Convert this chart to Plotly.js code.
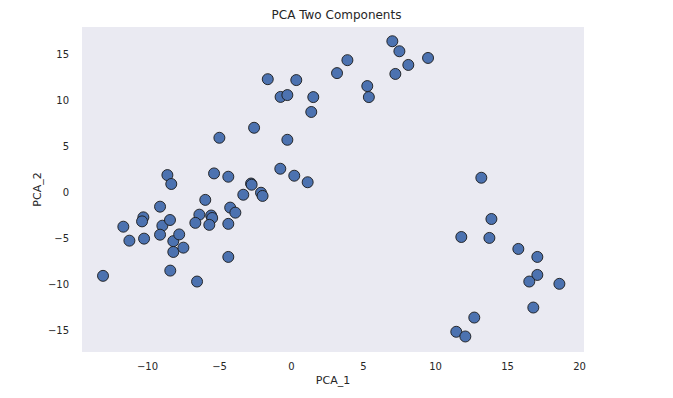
<!DOCTYPE html>
<html>
<head>
<meta charset="utf-8">
<script src="https://cdn.plot.ly/plotly-3.0.1.min.js"></script>
<style>html,body{margin:0;padding:0;background:#fff;}#chart{width:673px;height:398px;}</style>
</head>
<body>
<div id="chart"></div>
<script>
const pca1 = [-13.09,-11.68,-11.26,-10.29,-10.38,-10.24,-9.13,-8.97,-9.13,-8.44,-8.21,-7.80,-8.21,-7.51,-8.42,-8.62,-8.35,-6.56,-5.99,-6.40,-6.68,-5.58,-5.51,-5.71,-5.38,-4.39,-4.26,-3.90,-4.39,-4.39,-3.35,-2.81,-2.77,-2.12,-2.01,-0.78,0.19,1.12,-5.01,-2.60,-0.29,-1.65,0.33,-0.76,-0.29,1.51,1.37,3.16,3.88,7.00,7.49,9.48,8.11,7.21,5.26,5.37,13.18,13.88,11.79,13.74,15.75,17.07,17.07,16.51,18.60,16.79,12.69,11.44,12.07];
const pca2 = [-9.05,-3.70,-5.22,-2.68,-3.12,-5.00,-1.52,-3.59,-4.57,-2.97,-5.27,-4.54,-6.45,-5.98,-8.48,1.92,0.95,-9.67,-0.78,-2.39,-3.28,-2.48,-2.75,-3.50,2.10,1.74,-1.62,-2.17,-3.39,-6.99,-0.22,1.00,0.87,0.00,-0.35,2.61,1.85,1.14,5.98,7.07,5.76,12.36,12.26,10.43,10.63,10.41,8.79,13.02,14.43,16.49,15.40,14.67,13.91,12.93,11.61,10.41,1.63,-2.86,-4.82,-4.92,-6.12,-6.99,-8.95,-9.67,-9.92,-12.50,-13.59,-15.14,-15.65];
const xTicks = [-10,-5,0,5,10,15,20];
const yTicks = [-15,-10,-5,0,5,10,15];

const font = 'DejaVu Sans, sans-serif';
Plotly.newPlot('chart', [{
  x: pca1, y: pca2, type: 'scatter', mode: 'markers',
  marker: {size: 11, color: '#4C72B0', line: {color: '#1a1a1a', width: 0.9}},
  hoverinfo: 'skip'
}], {
  width: 673, height: 398,
  margin: {l: 82, r: 89, t: 27, b: 46},
  paper_bgcolor: '#ffffff', plot_bgcolor: '#EAEAF2',
  font: {family: font, color: '#262626', size: 10},
  title: {text: 'PCA Two Components', font: {size: 12, color: '#262626'}, x: 0.5, xanchor: 'center', y: 0.962, yanchor: 'middle'},
  xaxis: {range: [-14.55, 20.31], tickvals: xTicks, showgrid: false, zeroline: false, showline: false,
          ticks: 'outside', ticklen: 5, tickcolor: 'rgba(0,0,0,0)', tickfont: {size: 10, color: '#262626'},
          title: {text: 'PCA_1', font: {size: 11, color: '#262626'}, standoff: 5}},
  yaxis: {range: [-17.34, 18.04], tickvals: yTicks, showgrid: false, zeroline: false, showline: false,
          ticks: 'outside', ticklen: 10, tickcolor: 'rgba(0,0,0,0)', tickfont: {size: 10, color: '#262626'},
          title: {text: 'PCA_2', font: {size: 11, color: '#262626'}, standoff: 4}},
  showlegend: false
}, {staticPlot: true});
</script>
</body>
</html>
